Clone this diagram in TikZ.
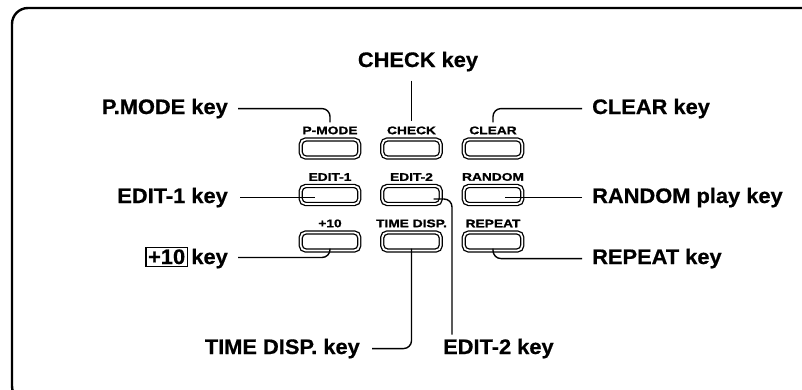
\documentclass[tikz,border=0pt]{standalone}
\usepackage{fontspec}
\setmainfont{Liberation Sans}
\newfontfamily\namefont{Liberation Sans}[FakeStretch=1.04, FakeBold=0.6]
\newfontfamily\capsfont{Liberation Sans}[FakeStretch=1.25, FakeBold=1.2]
\usetikzlibrary{positioning}

\setlength{\fboxsep}{1.5pt}
\setlength{\fboxrule}{1.2pt}

\begin{document}
\begin{tikzpicture}[x=1pt, y=-1pt,
    btn/.style={draw, double, double distance=1.8pt, line width=1.3pt,
                rounded corners=5pt, minimum width=58.5pt, minimum height=18pt,
                inner sep=0pt, outer sep=0pt},
    btnlabel/.style={font=\capsfont\bfseries\fontsize{11}{12}\selectfont,
                     inner sep=0pt},
    keyname/.style={font=\namefont\bfseries\fontsize{21}{24}\selectfont,
                    inner sep=0pt},
    conn/.style={line width=1.4pt, rounded corners=8pt}
]
    \clip (0,0) rectangle (802,389);
    % outer frame
    \draw[line width=2.4pt, rounded corners=16pt]
        (830,8) -- (12,8) -- (12,402) -- (830,402);

    % keys
    \node[btn] (btn-pmode) at (330,148.5) {};
    \node[btn, right=23pt of btn-pmode] (btn-check) {};
    \node[btn, right=23pt of btn-check] (btn-clear) {};
    \node[btn, below=28.5pt of btn-pmode] (btn-edit1) {};
    \node[btn, right=23pt of btn-edit1] (btn-edit2) {};
    \node[btn, right=23pt of btn-edit2] (btn-random) {};
    \node[btn, below=28.5pt of btn-edit1] (btn-plus10) {};
    \node[btn, right=23pt of btn-plus10] (btn-timedisp) {};
    \node[btn, right=23pt of btn-timedisp] (btn-repeat) {};

    \node[btnlabel, above=5pt of btn-pmode] (lbl-pmode) {P-MODE};
    \node[btnlabel, above=5pt of btn-check] (lbl-check) {CHECK};
    \node[btnlabel, above=5pt of btn-clear] (lbl-clear) {CLEAR};
    \node[btnlabel, above=5pt of btn-edit1] (lbl-edit1) {EDIT-1};
    \node[btnlabel, above=5pt of btn-edit2] (lbl-edit2) {EDIT-2};
    \node[btnlabel, above=5pt of btn-random] (lbl-random) {RANDOM};
    \node[btnlabel, above=5pt of btn-plus10] (lbl-plus10) {+10};
    \node[btnlabel, above=5pt of btn-timedisp] (lbl-timedisp) {TIME DISP.};
    \node[btnlabel, above=5pt of btn-repeat] (lbl-repeat) {REPEAT};

    % key names
    \node[keyname, anchor=base] (checkkey) at (418,67) {CHECK key};
    \node[keyname, anchor=base east] (pmodekey) at (228,114) {P.MODE key};
    \node[keyname, anchor=base west] (clearkey) at (592,114) {CLEAR key};
    \node[keyname, anchor=base east] (edit1key) at (228,203) {EDIT-1 key};
    \node[keyname, anchor=base west] (randomkey) at (592,203) {RANDOM play key};
    \node[keyname, anchor=base east] (plus10key) at (228,264) {\fbox{+10}\,key};
    \node[keyname, anchor=base west] (repeatkey) at (592,264) {REPEAT key};
    \node[keyname, anchor=base east] (timedispkey) at (360,354) {TIME DISP. key};
    \node[keyname, anchor=base west] (edit2key) at (443,354) {EDIT-2 key};

    % leaders
    \draw[conn] ([yshift=-9pt]checkkey.south -| btn-check) -- ([yshift=5pt]lbl-check.north);
    \draw[conn] ([xshift=10pt]pmodekey.east) -| ([yshift=4pt]lbl-pmode.north);
    \draw[conn] ([xshift=-10pt]clearkey.west) -| ([yshift=4pt]lbl-clear.north);
    \draw[conn] ([xshift=12pt]edit1key.east) -- ([xshift=-15pt]edit1key.east -| btn-edit1.center);
    \draw[conn] ([xshift=-10pt]randomkey.west) -- ([xshift=12pt]randomkey.west -| btn-random.center);
    \draw[conn] ([xshift=10pt]plus10key.east) -| ([yshift=2pt]btn-plus10.south);
    \draw[conn] ([xshift=-10pt]repeatkey.west) -| ([yshift=2pt]btn-repeat.south);
    \draw[conn] ([xshift=12pt]timedispkey.east) -| ([yshift=2pt]btn-timedisp.south);
    \draw[conn] ([xshift=9pt,yshift=4pt]edit2key.north west) |- ([xshift=22pt,yshift=-4pt]btn-edit2.center);
\end{tikzpicture}
\end{document}
